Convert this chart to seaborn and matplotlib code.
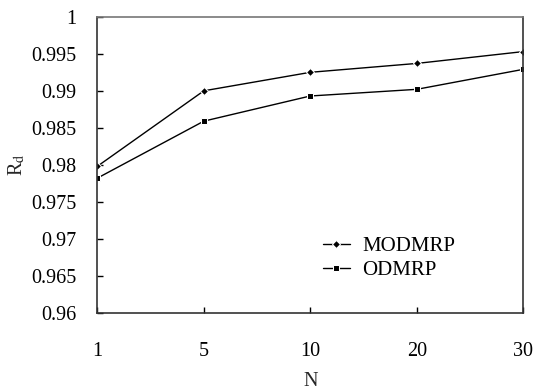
import pandas as pd
import matplotlib.pyplot as plt
import seaborn as sns

# data
n_labels = ["1", "5", "10", "20", "30"]
modmrp = [0.9798, 0.9900, 0.9925, 0.9937, 0.9953]
odmrp = [0.9782, 0.9859, 0.9893, 0.9902, 0.9929]

df = pd.DataFrame({
    "N": n_labels * 2,
    "Rd": modmrp + odmrp,
    "Protocol": ["MODMRP"] * len(n_labels) + ["ODMRP"] * len(n_labels),
})
df["pos"] = df["N"].map({k: i for i, k in enumerate(n_labels)})

sns.set_style("white")
plt.rcParams["font.family"] = ["Liberation Serif", "DejaVu Serif"]
plt.rcParams["mathtext.fontset"] = "stix"

fig, ax = plt.subplots(figsize=(5.35, 3.91), dpi=100)
sns.lineplot(data=df, x="pos", y="Rd", hue="Protocol", style="Protocol",
             palette=["black", "black"], markers={"MODMRP": "D", "ODMRP": "s"},
             dashes=False, markersize=4, linewidth=1.0, ax=ax)

ax.set_xlim(0, len(n_labels) - 1)
ax.set_ylim(0.96, 1.0)
ax.set_xticks(range(len(n_labels)))
ax.set_xticklabels(n_labels)
ax.set_yticks([0.96, 0.965, 0.97, 0.975, 0.98, 0.985, 0.99, 0.995, 1.0])
ax.set_yticklabels(["0.96", "0.965", "0.97", "0.975", "0.98", "0.985", "0.99", "0.995", "1"])
ax.tick_params(axis="both", direction="in", length=4, width=1, labelsize=14.5,
               bottom=True, left=True, top=False, right=False, colors="black")
ax.tick_params(axis="y", pad=15)
ax.tick_params(axis="x", pad=21)
for s in ax.spines.values():
    s.set_color("#333333")
    s.set_linewidth(1.2)
ax.spines["top"].set_color("#777777")
ax.set_xlabel("N", fontsize=14.5, labelpad=8)
ax.set_ylabel(r"R$_\mathrm{d}$", fontsize=14.5, labelpad=3)

leg = ax.legend(title=None, loc="upper left", bbox_to_anchor=(0.485, 0.32), frameon=False,
                fontsize=15, handlelength=1.3, labelspacing=0.2, handletextpad=0.6)
for t in leg.get_texts():
    t.set_color("black")

fig.subplots_adjust(left=0.182, right=0.978, top=0.957, bottom=0.2)
fig.savefig("out.png", dpi=100)
